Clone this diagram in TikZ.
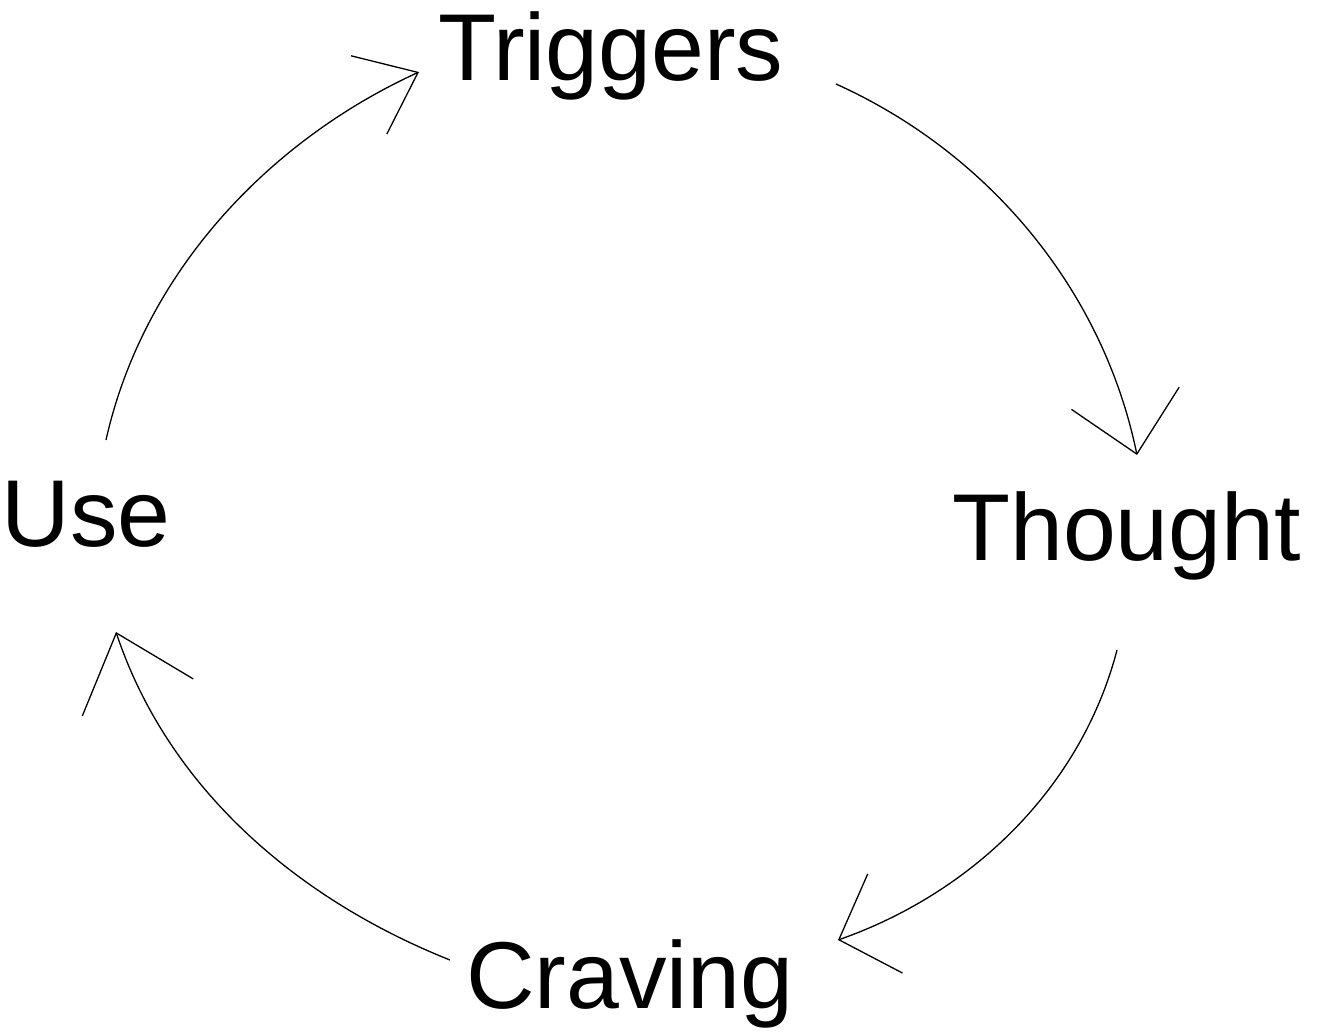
\documentclass[tikz,border=0pt]{standalone}
\usepackage{fontspec}
\setmainfont{Liberation Sans}
\usetikzlibrary{arrows.meta}
\begin{document}
\begin{tikzpicture}[x=1pt,y=-1pt,
  lbl/.style={inner sep=0pt,anchor=base,font=\fontsize{95}{100}\selectfont},
  cyc/.style={line width=1.3pt},
  barb/.style n args={2}{-{Straight Barb[length=#1pt,width=#2pt,line width=1.3pt]}}]
\useasboundingbox (0,0) rectangle (1327,1033);
\node[lbl] (trig) at (611,81) {Triggers};
\node[lbl] (thou) at (1126.5,560) {Thought};
\node[lbl] (use) at (86,546) {Use};
\node[lbl] (crav) at (630,1008) {Craving};
% connector ends
\coordinate (u0) at (106,440);  \coordinate (t1) at (419,72);
\coordinate (t0) at (836,84);   \coordinate (h1) at (1137,455);
\coordinate (h0) at (1117,650); \coordinate (c1) at (838,940);
\coordinate (c0) at (450,960);  \coordinate (u1) at (116,632);
\draw[cyc,barb={54}{86}] (u0) .. controls (143,275) and (266,142) .. (t1);
\draw[cyc,barb={57}{110}] (t0) .. controls (989,153) and (1103,290) .. (h1);
\draw[cyc,barb={49}{105}] (h0) .. controls (1081,788) and (972,893) .. (c1);
\draw[cyc,barb={68}{117}] (c0) .. controls (297,899) and (168,788) .. (u1);
\end{tikzpicture}
\end{document}
